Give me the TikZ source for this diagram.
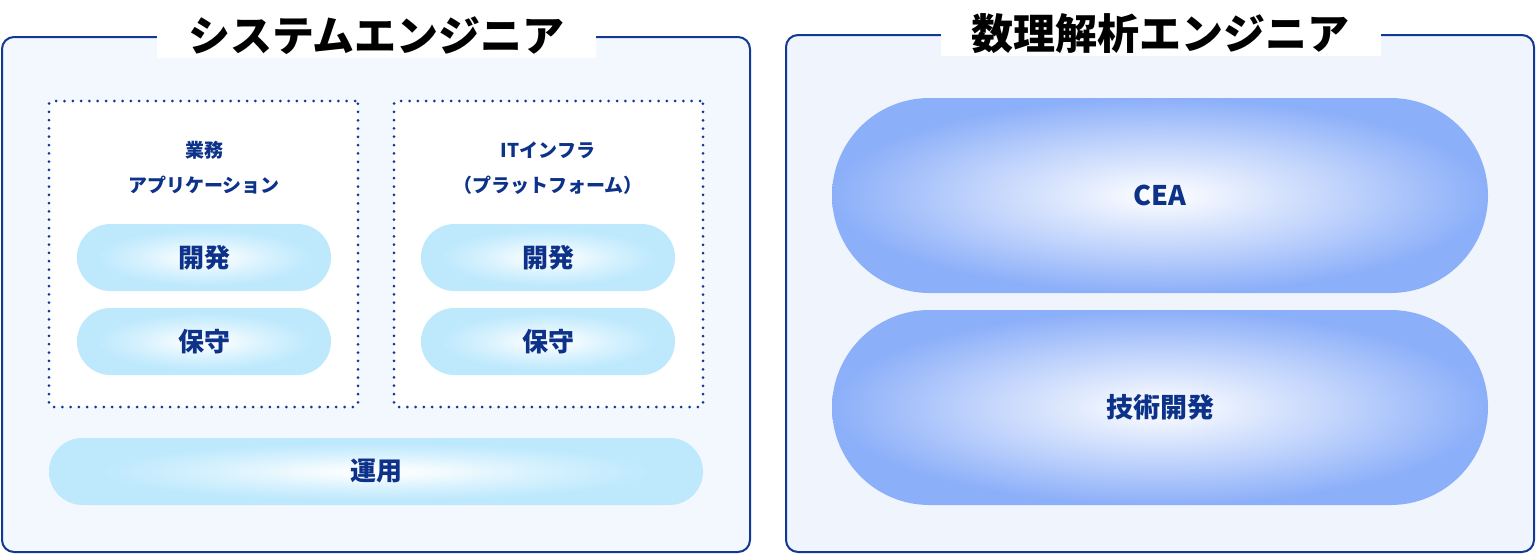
\documentclass[tikz,border=0pt]{standalone}
\usepackage{fontspec}
\usepackage{xcolor}
\usepackage{tikz}
\usetikzlibrary{positioning}
\newfontfamily\jp{Noto Sans CJK JP}
\newfontfamily\jpheavy{Noto Sans CJK JP Black}
\definecolor{navy}{RGB}{16, 56, 148}
\definecolor{textblue}{RGB}{12, 50, 138}
\definecolor{sysfill}{RGB}{242, 248, 254}
\definecolor{mathfill}{RGB}{240, 244, 253}
\definecolor{pillcyan}{RGB}{190, 233, 253}
\definecolor{pillblue}{RGB}{140, 175, 249}
\pgfdeclareradialshading{cyanpill}{\pgfpoint{0bp}{0bp}}{color(0bp)=(white); color(4bp)=(white!85!pillcyan); color(12bp)=(white!40!pillcyan); color(21bp)=(pillcyan); color(25bp)=(pillcyan); color(50bp)=(pillcyan)}
\pgfdeclareradialshading{bluepill}{\pgfpoint{0bp}{0bp}}{color(0bp)=(white); color(5bp)=(white!80!pillblue); color(14bp)=(white!45!pillblue); color(25bp)=(pillblue); color(50bp)=(pillblue)}

\begin{document}
\begin{tikzpicture}[
    x=1pt, y=-1pt,
    panel/.style={draw=navy, line width=2pt, rounded corners=12pt},
    titlepatch/.style={fill=white, inner sep=0pt, minimum height=44pt, font=\jpheavy\fontsize{42}{42}\selectfont},
    group/.style={draw=navy, fill=white, line width=3pt, dash pattern=on 0pt off 8.3pt, line cap=round, rounded corners=3pt, minimum width=309pt, minimum height=306pt},
    label/.style={text=textblue, font=\jp\bfseries\fontsize{19}{19}\selectfont, inner sep=0pt},
    smallpill/.style={shading=cyanpill, rounded corners=33.5pt, minimum width=254pt, minimum height=67pt, text=textblue, font=\jp\bfseries\fontsize{26}{26}\selectfont},
    widepill/.style={smallpill, minimum width=654pt},
    bigpill/.style={shading=bluepill, rounded corners=97.5pt, minimum width=656pt, minimum height=195pt, text=textblue, font=\jp\bfseries\fontsize{27}{27}\selectfont}
]
\useasboundingbox (0,0) rectangle (1536,554);

% system engineer
\node[panel, fill=sysfill, minimum width=748pt, minimum height=515pt] (sys) at (376,294.5) {};
\node[titlepatch, minimum width=439pt] (systitle) at (376.5,36) {システムエンジニア};

\node[group] (app) at (203.5,254) {};
\node[group] (infra) at (548.5,254) {};

\node[label] (app1) at (204,150) {業務};
\node[label] (app2) at (204,185) {アプリケーション};
\node[label] (infra1) at (548,150) {ITインフラ};
\node[label] (infra2) at (548,185) {（プラットフォーム）};

\node[smallpill] (appdev) at (204,257.5) {開発};
\node[smallpill] (appmnt) at (204,341.5) {保守};
\node[smallpill] (infradev) at (548,257.5) {開発};
\node[smallpill] (inframnt) at (548,341.5) {保守};
\node[widepill] (ops) at (376,471.5) {運用};

% math engineer
\node[panel, fill=mathfill, minimum width=748pt, minimum height=517pt] (math) at (1160,293.5) {};
\node[titlepatch, minimum width=440pt] (mathtitle) at (1160.5,34) {数理解析エンジニア};

\node[bigpill] (cea) at (1160,195.5) {CEA};
\node[bigpill] (rnd) at (1160,407.5) {技術開発};
\end{tikzpicture}
\end{document}
